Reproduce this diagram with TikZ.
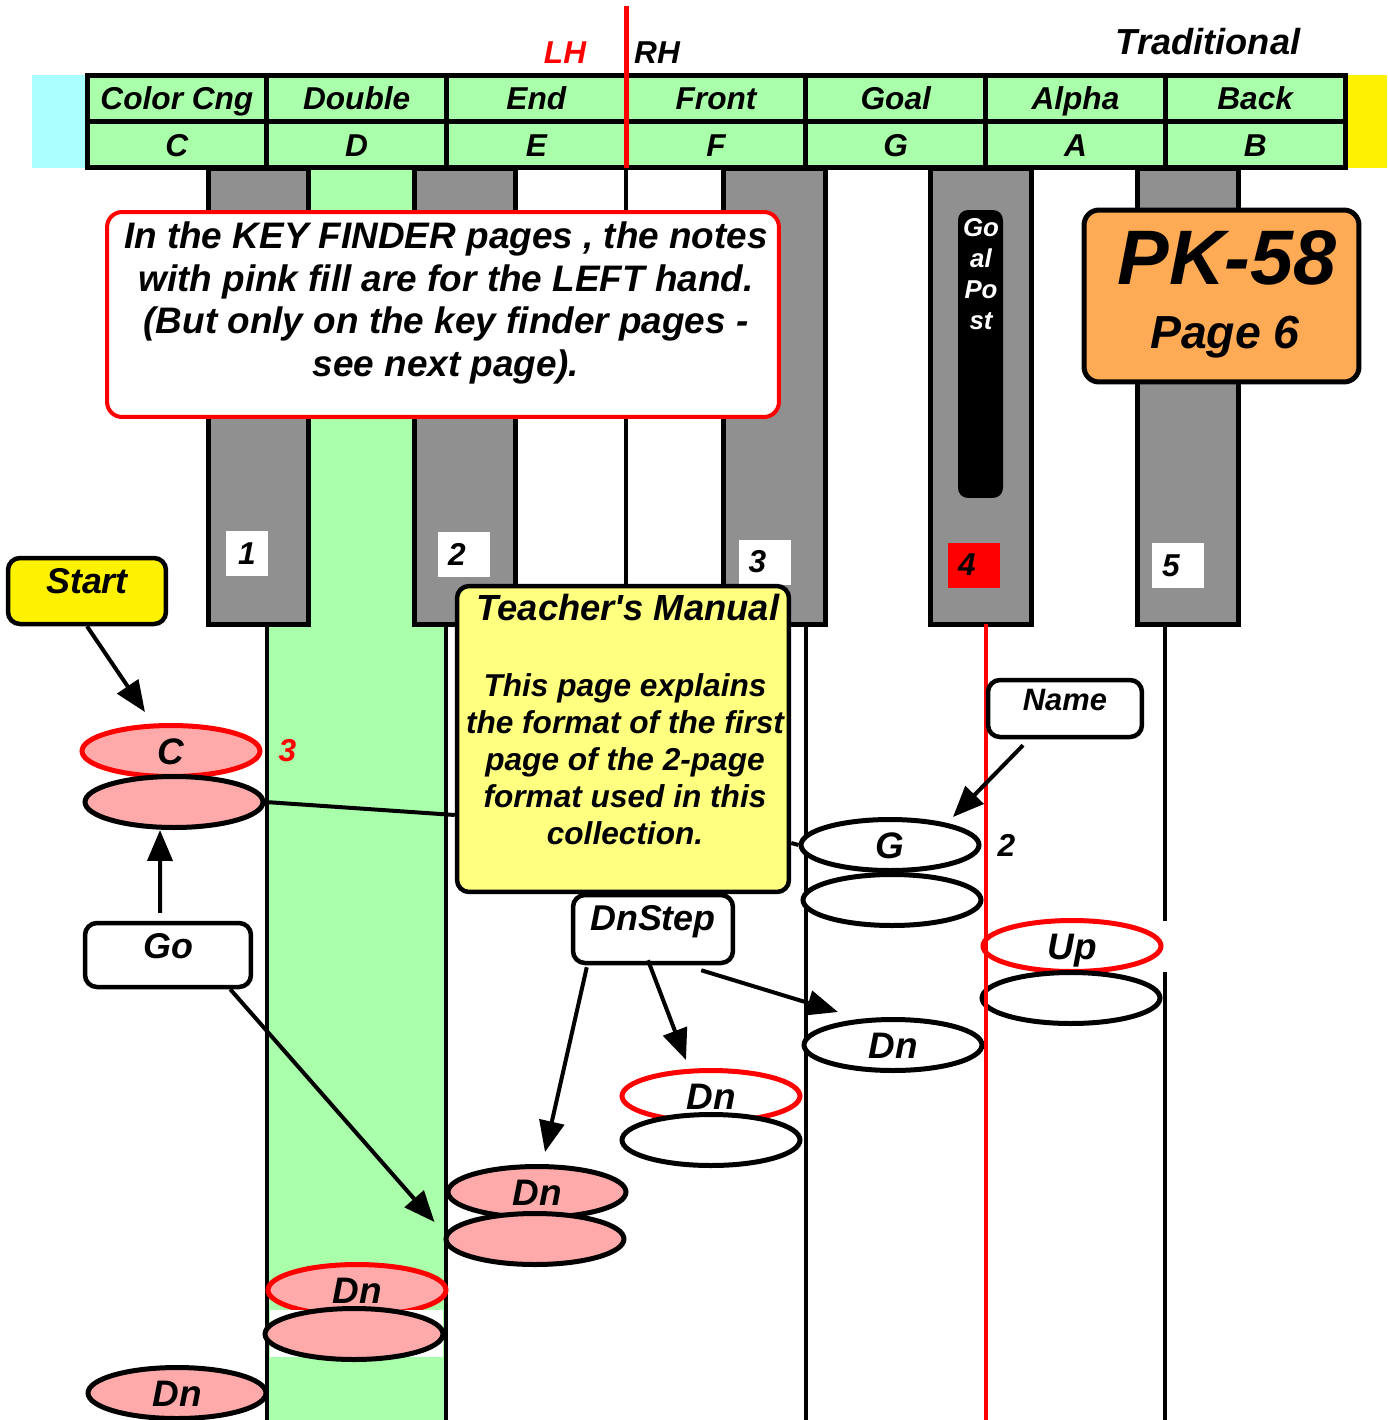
\documentclass[tikz,border=0pt]{standalone}
\usepackage{fontspec}
\setmainfont{Liberation Sans}
\usetikzlibrary{shapes.geometric, positioning, arrows.meta, calc}

\definecolor{keygreen}{HTML}{AAFFAA}
\definecolor{keygray}{HTML}{909090}
\definecolor{notepink}{HTML}{FFAAAA}
\definecolor{sidecyan}{HTML}{AAFFFF}
\definecolor{tagorange}{HTML}{FFAA55}
\definecolor{paleyellow}{HTML}{FFFF80}

\begin{document}
\begin{tikzpicture}[
    x=0.02cm, y=-0.02cm,
    every node/.style={font=\bfseries\itshape},
    hcell/.style={rectangle, draw, line width=1mm, fill=keygreen, minimum width=3.594cm, minimum height=0.93cm, inner sep=0pt, text height=12.9pt, text depth=0pt, font=\bfseries\itshape\fontsize{18}{20}\selectfont},
    bkey/.style={draw, line width=1mm, fill=keygray},
    kline/.style={line width=0.8mm},
    numbox/.style={fill=white, minimum width=1.04cm, minimum height=0.9cm, inner sep=0pt, font=\bfseries\itshape\fontsize{18}{20}\selectfont},
    numboxl/.style={numbox, execute at end node={\kern2.8mm}},
    note/.style={ellipse, draw, line width=1mm, fill=white, minimum width=3.56cm, minimum height=1.02cm, inner sep=0pt, text height=15pt, text depth=0pt, font=\bfseries\itshape\fontsize{21}{24}\selectfont},
    lefthand/.style={note, draw=red},
    tag/.style={rectangle, draw, line width=0.9mm, rounded corners=2.4mm, inner sep=0pt, text height=0.7cm, text depth=0.6cm, font=\bfseries\itshape\fontsize{20.4}{24}\selectfont},
    finger/.style={font=\bfseries\itshape\fontsize{18}{20}\selectfont},
    arr/.style={line width=0.8mm, -{Triangle[length=6.2mm, width=5mm]}},
]

    \useasboundingbox (0,0) rectangle (1387,1420);
    \clip (0,0) rectangle (1387,1420);

    % side strips of the name row
    \fill[sidecyan] (32,75) rectangle (87,168);
    \fill[yellow] (1345,75) rectangle (1387,168);

    % D key in green
    \fill[keygreen] (267,168) rectangle (446,1420);

    % white key edges
    \foreach \kx in {267, 446, 806}
        \draw[kline] (\kx,168) -- (\kx,1420);
    \draw[kline] (626,168) -- (626,600);
    \draw[kline] (1165,168) -- (1165,921);
    \draw[kline] (1165,972) -- (1165,1420);

    % black keys
    \foreach \kl/\kr in {208/308, 414/515, 723/825, 930/1031, 1137/1238}
        \draw[bkey] (\kl,168) rectangle (\kr,624);

    % key names and letters
    \foreach \word/\letter [count=\i from 0] in {Color Cng/C, Double/D, End/E, Front/F, Goal/G, Alpha/A, Back/B} {
        \node[hcell] (word\i) at ({176.9+179.71*\i},98.25) {\word};
        \node[hcell] (letter\i) at ({176.9+179.71*\i},144.75) {\letter};
    }

    % hand split
    \draw[red, line width=1mm] (626,6) -- (626,168);
    \node[finger, text=red] (lh) at (565,53) {LH};
    \node[finger] (rh) at (657,53) {RH};
    \node[font=\bfseries\itshape\fontsize{20.6}{24}\selectfont] (trad) at (1208,42) {Traditional};

    % finger numbers
    \node[numbox, minimum width=0.84cm] (k1) at (247,553.5) {1};
    \node[numboxl] (k2) at (464,554.5) {2};
    \node[numboxl] (k3) at (764.5,562) {3};
    \node[numboxl, fill=red] (k4) at (974,565) {4};
    \node[numboxl] (k5) at (1178,565.5) {5};

    % goal post
    \node[fill=black, rounded corners=2mm, minimum width=0.9cm, minimum height=5.76cm] (goalpost) at (980.5,354) {};
    \node[text=white, align=center, font=\bfseries\itshape\fontsize{14.7}{17.7}\selectfont] (gptext) at (981,274) {Go\\al\\Po\\st};

    % left hand notice
    \node[draw=red, line width=0.8mm, rounded corners=3mm, fill=white, minimum width=13.44cm, minimum height=4.1cm] (lhbox) at (443,314.5) {};
    \node[align=center, font=\bfseries\itshape\fontsize{21}{24.2}\selectfont] (lhtext) at (446,303) {In the KEY FINDER pages , the notes\\with pink fill are for the LEFT hand.\\(But only on the key finder pages -\\see next page).};

    % page tag
    \node[draw, line width=1mm, rounded corners=3mm, fill=tagorange, minimum width=5.5cm, minimum height=3.44cm] (pkbox) at (1221.5,296) {};
    \node[font=\bfseries\itshape\fontsize{44}{48}\selectfont] (pkname) at (1227,258) {PK-58};
    \node[font=\bfseries\itshape\fontsize{26.4}{30}\selectfont] (pkpage) at (1225,337) {Page 6};

    % teacher's manual
    \node[draw, line width=0.9mm, rounded corners=2.4mm, fill=paleyellow, minimum width=6.64cm, minimum height=6.12cm] (teacher) at (623,739) {};
    \node[font=\bfseries\itshape\fontsize{20.7}{24}\selectfont] (tmtitle) at (628,607) {Teacher\textquotesingle s Manual};
    \node[align=center, font=\bfseries\itshape\fontsize{18}{21}\selectfont] (tmbody) at (625,759) {This page explains\\the format of the first\\page of the 2-page\\format used in this\\collection.};

    % notes
    \node[lefthand, fill=notepink] (cR) at (171,751) {C};
    \node[note, fill=notepink] (cL) at (174,802) {};
    \node[finger, text=red, right=0.2cm of cR] (cnum) {3};

    \node[note] (gU) at (890,845) {G};
    \node[note] (gL) at (892,900) {};
    \node[finger, right=0.2cm of gU] (gnum) {2};

    \node[lefthand] (upU) at (1072,946) {Up};
    \node[note] (upL) at (1071,998) {};

    \node[note] (dnA) at (893,1045) {Dn};
    \node[lefthand] (dnBU) at (711,1096) {Dn};
    \node[note] (dnBL) at (711,1140) {};
    \node[note, fill=notepink] (dnCU) at (537,1192) {Dn};
    \node[note, fill=notepink] (dnCL) at (535,1239) {};
    \node[lefthand, fill=notepink] (dnDU) at (357,1290) {Dn};
    \fill[white] (270,1310) rectangle (443,1357);
    \node[note, fill=notepink] (dnDL) at (354,1334) {};
    \node[note, fill=notepink] (dnE) at (177,1393) {Dn};

    % G|A edge in red
    \draw[red, line width=0.8mm] (986,624) -- (986,1420);

    % tags
    \node[tag, fill=yellow, minimum width=3.16cm, text depth=0.62cm] (start) at (87,591) {Start};
    \node[tag, fill=white, minimum width=3.32cm, text depth=0.58cm] (go) at (168,955) {Go};
    \node[tag, fill=white, minimum width=3.08cm, text height=0.6cm, text depth=0.54cm, font=\bfseries\itshape\fontsize{17.6}{20}\selectfont] (namebox) at (1065,708.5) {Name};
    \node[tag, fill=white, minimum width=3.2cm, text depth=0.66cm] (dnstep) at (653,929) {DnStep};

    % connectors
    \draw[arr] (start.south) -- ([shift={(-5.2mm,2.2mm)}]cR.north);
    \draw[arr, shorten <=1.6mm] ([xshift=-1.6mm]go.north) -- ([xshift=-2.8mm]cL.south);
    \draw[arr] ([xshift=-4.6mm]go.south east) -- ([shift={(-1.8mm,3.4mm)}]dnCL.west);
    \draw[arr] ([shift={(-8.4mm,-1.2mm)}]namebox.south) -- ([xshift=12.6mm]gU.north);
    \draw[arr] ([shift={(3.2mm,-0.4mm)}]dnstep.south west) -- ([shift={(1.6mm,2.4mm)}]dnCU.north);
    \draw[arr] ([shift={(-1mm,1mm)}]dnstep.south) -- ([shift={(-5mm,1.6mm)}]dnBU.north);
    \draw[arr] ([shift={(-6.8mm,-1mm)}]dnstep.south east) -- ([shift={(-11mm,1mm)}]dnA.north);
    \draw[kline] (cL.east) -- ([yshift=-15.2mm]teacher.west);
    \draw[kline] ([yshift=-20.8mm]teacher.east) -- (gU.west);

\end{tikzpicture}
\end{document}
